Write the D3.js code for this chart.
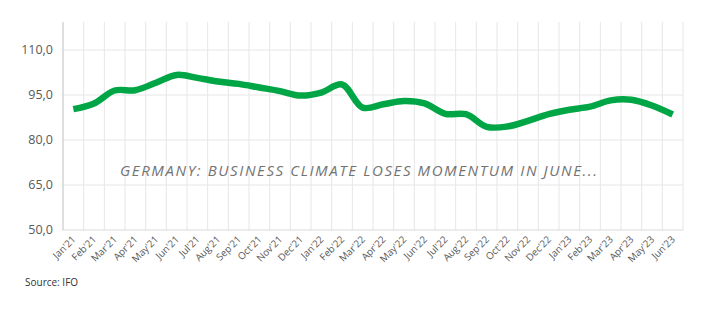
<!DOCTYPE html>
<html>
<head>
<meta charset="utf-8">
<script src="https://cdn.jsdelivr.net/npm/d3@7"></script>
<style>
  html, body { margin: 0; padding: 0; background: #fff; }
  svg { display: block; }
</style>
</head>
<body>
<svg id="chart" width="707" height="324"></svg>
<script>
// Ifo business climate index, monthly
const months = ["Jan'21","Feb'21","Mar'21","Apr'21","May'21","Jun'21","Jul'21","Aug'21","Sep'21","Oct'21","Nov'21","Dec'21",
                "Jan'22","Feb'22","Mar'22","Apr'22","May'22","Jun'22","Jul'22","Aug'22","Sep'22","Oct'22","Nov'22","Dec'22",
                "Jan'23","Feb'23","Mar'23","Apr'23","May'23","Jun'23"];
const climate = [90.3, 92.2, 96.5, 96.6, 99.1, 101.7, 100.7, 99.5, 98.7, 97.5, 96.3, 94.8,
                 95.8, 98.5, 90.8, 91.9, 93.0, 92.2, 88.7, 88.6, 84.4, 84.5, 86.4, 88.6,
                 90.1, 91.1, 93.2, 93.4, 91.5, 88.5];
const yTicks = [50, 65, 80, 95, 110];
const title = "GERMANY: BUSINESS CLIMATE LOSES MOMENTUM IN JUNE...";
const source = "Source: IFO";

const svg = d3.select("#chart");
const plotL = 63, plotR = 683, plotT = 22, plotB = 230;

const x = d3.scaleBand().domain(months).range([plotL, plotR]);
const y = d3.scaleLinear().domain([50, 110]).range([plotB, 50]);

// horizontal gridlines
svg.append("g").selectAll("line").data(yTicks.slice(1)).join("line")
  .attr("x1", plotL).attr("x2", plotR)
  .attr("y1", d => y(d)).attr("y2", d => y(d))
  .attr("stroke", "#e6e6e6").attr("stroke-width", 1);

// vertical gridlines at category boundaries
const bounds = months.map(m => x(m)).slice(1).concat([plotR]);
svg.append("g").selectAll("line").data(bounds).join("line")
  .attr("x1", d => d).attr("x2", d => d)
  .attr("y1", plotT).attr("y2", plotB)
  .attr("stroke", "#e6e6e6").attr("stroke-width", 1);

// axis lines
svg.append("line").attr("x1", plotL).attr("x2", plotR).attr("y1", plotB).attr("y2", plotB)
  .attr("stroke", "#d9d9d9");
svg.append("line").attr("x1", plotL).attr("x2", plotL).attr("y1", plotT).attr("y2", plotB)
  .attr("stroke", "#bfbfbf");

// y tick labels
svg.append("g").selectAll("text").data(yTicks).join("text")
  .attr("x", 53).attr("y", d => y(d)).attr("dy", "0.35em")
  .attr("text-anchor", "end")
  .attr("font-family", "Open Sans, sans-serif").attr("font-size", 12.5)
  .attr("fill", "#595959")
  .text(d => d.toFixed(1).replace(".", ","));

// x tick labels, rotated
svg.append("g").selectAll("text").data(months).join("text")
  .attr("transform", d => `translate(${x(d) + x.bandwidth() / 2 + 3},${plotB + 10}) rotate(-45)`)
  .attr("text-anchor", "end")
  .attr("font-family", "Open Sans, sans-serif").attr("font-size", 9.8)
  .attr("fill", "#595959")
  .text(d => d);

// index line
const line = d3.line()
  .x((d, i) => x(months[i]) + x.bandwidth() / 2)
  .y(d => y(d))
  .curve(d3.curveCatmullRom.alpha(0.5));
svg.append("path").datum(climate)
  .attr("d", line)
  .attr("fill", "none")
  .attr("stroke", "#00a645")
  .attr("stroke-width", 6.5)
  .attr("stroke-linejoin", "round");

// headline
svg.append("text")
  .attr("x", 120).attr("y", 176)
  .attr("font-family", "Open Sans, sans-serif").attr("font-size", 15)
  .attr("font-style", "italic")
  .attr("letter-spacing", 1.6)
  .attr("fill", "#737373")
  .text(title);

// source note
svg.append("text")
  .attr("x", 25).attr("y", 286)
  .attr("font-family", "Open Sans, sans-serif").attr("font-size", 10)
  .attr("fill", "#333")
  .text(source);
</script>
</body>
</html>
